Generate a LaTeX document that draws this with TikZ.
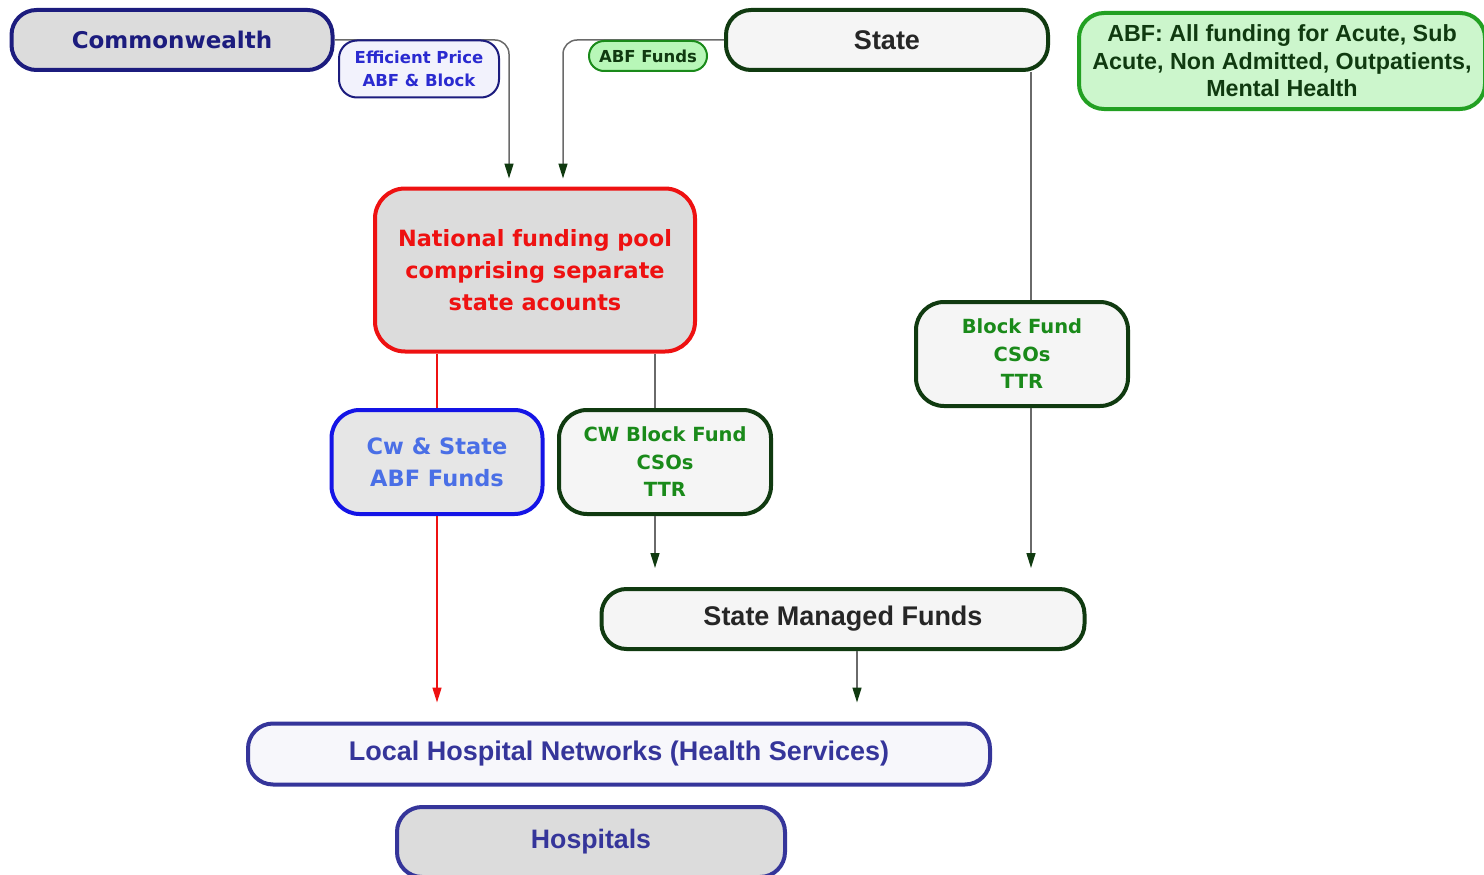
\documentclass[tikz,border=0pt]{standalone}
\usepackage{fontspec}
\setmainfont{DejaVu Sans}
\newfontfamily\narrowsans{Liberation Sans}
\usetikzlibrary{arrows.meta}
\definecolor{navy}{HTML}{1C1C7E}
\definecolor{hospblue}{HTML}{35359A}
\definecolor{effblue}{HTML}{2A2AD0}
\definecolor{darkgreen}{HTML}{103A10}
\definecolor{midgreen}{HTML}{1A8A1A}
\definecolor{notegreen}{HTML}{CCF6CC}
\definecolor{noteedge}{HTML}{22A022}
\definecolor{poolred}{HTML}{EE1111}
\definecolor{abfblue}{HTML}{1414E6}
\definecolor{abftext}{HTML}{4A6FE6}
\definecolor{boxgray}{HTML}{DCDCDC}
\definecolor{boxwhite}{HTML}{F5F5F5}
\definecolor{linegray}{HTML}{6A6A6A}
\begin{document}
\begin{tikzpicture}[x=1pt,y=-1pt,
  box/.style={draw, rounded corners=25pt, line width=4pt, align=center, inner sep=0pt},
  tag/.style={draw, rounded corners=18pt, line width=2pt, align=center, inner sep=0pt,
    font=\fontsize{16.5}{23}\selectfont\bfseries},
  link/.style={draw=linegray, line width=1.5pt},
  flow/.style={link, shorten >=19pt, -{Triangle[color=darkgreen,width=9pt,length=15pt]}},
  redflow/.style={draw=poolred, line width=1.5pt, shorten >=19pt, -{Triangle[color=poolred,width=9pt,length=15pt]}}]
\useasboundingbox (0,0) rectangle (1484,875);
\node [box, fill=boxgray, draw=navy, text=navy, minimum width=321pt, minimum height=60pt,
  font=\fontsize{23}{28}\selectfont\bfseries] (cw) at (172,40) {Commonwealth};
\node [box, fill=boxwhite, draw=darkgreen, text=black!85, minimum width=322pt, minimum height=60pt,
  font=\narrowsans\fontsize{27}{32}\selectfont\bfseries] (state) at (887,40) {State};
\node [box, fill=notegreen, draw=noteedge, text=darkgreen, minimum width=406pt, minimum height=96pt,
  font=\narrowsans\fontsize{23.3}{27.5}\selectfont\bfseries] (note) at (1282,61)
  {ABF: All funding for Acute, Sub\\Acute, Non Admitted, Outpatients,\\Mental Health};
\node [box, rounded corners=30pt, fill=boxgray, draw=poolred, text=poolred, minimum width=320pt, minimum height=163pt,
  font=\fontsize{22.4}{32}\selectfont\bfseries] (pool) at (535,270)
  {National funding pool\\comprising separate\\state acounts};
\node [box, rounded corners=28pt, fill=boxgray!70!white, draw=abfblue, text=abftext, minimum width=211pt, minimum height=104pt,
  font=\fontsize{22.5}{32}\selectfont\bfseries] (cwabf) at (437,462) {Cw \& State\\ABF Funds};
\node [box, rounded corners=28pt, fill=boxwhite, draw=darkgreen, text=midgreen, minimum width=212pt, minimum height=104pt,
  font=\fontsize{19.5}{27.5}\selectfont\bfseries] (cwblock) at (665,462) {CW Block Fund\\CSOs\\TTR};
\node [box, rounded corners=28pt, fill=boxwhite, draw=darkgreen, text=midgreen, minimum width=212pt, minimum height=104pt,
  font=\fontsize{19.5}{27.5}\selectfont\bfseries] (block) at (1022,354) {Block Fund\\CSOs\\TTR};
\node [box, fill=boxwhite, draw=darkgreen, text=black!85, minimum width=483pt, minimum height=60pt,
  font=\narrowsans\fontsize{27}{32}\selectfont\bfseries] (smf) at (843,619) {State Managed Funds};
\node [box, fill=hospblue!4!white, draw=hospblue, text=hospblue, minimum width=742pt, minimum height=61pt,
  font=\narrowsans\fontsize{27}{32}\selectfont\bfseries] (lhn) at (619,754) {Local Hospital Networks (Health Services)};
\node [box, fill=boxgray, draw=hospblue, text=hospblue, minimum width=388pt, minimum height=70pt,
  font=\narrowsans\fontsize{26.7}{32}\selectfont\bfseries] (hosp) at (591,842) {Hospitals};
\draw [flow, rounded corners=14pt, shorten >=8pt] (cw.east) -| ([xshift=-26pt]pool.north);
\draw [flow, rounded corners=14pt, shorten >=8pt] (state.west) -| ([xshift=28pt]pool.north);
\draw [link] ([xshift=9pt]block.north) -- ([xshift=9pt]block.north |- state.south);
\draw [flow] ([xshift=9pt]block.south) -- ([xshift=9pt]block.south |- smf.north);
\draw [draw=poolred, line width=1.5pt] (cwabf.north) -- (cwabf.north |- pool.south);
\draw [redflow] (cwabf.south) -- (cwabf.south |- lhn.north);
\draw [link] ([xshift=-10pt]cwblock.north) -- ([xshift=-10pt]cwblock.north |- pool.south);
\draw [flow] ([xshift=-10pt]cwblock.south) -- ([xshift=-10pt]cwblock.south |- smf.north);
\draw [flow] ([xshift=14pt]smf.south) -- ([xshift=14pt]smf.south |- lhn.north);
\node [tag, fill=effblue!6!white, draw=navy, text=effblue, minimum width=160pt, minimum height=57pt] (eff) at (419,69)
  {Efficient Price\\ABF \& Block};
\node [tag, rounded corners=15pt, fill=notegreen!90!green, draw=midgreen, text=darkgreen, minimum width=118pt, minimum height=30pt] (abf) at (648,56)
  {ABF Funds};
\end{tikzpicture}
\end{document}
